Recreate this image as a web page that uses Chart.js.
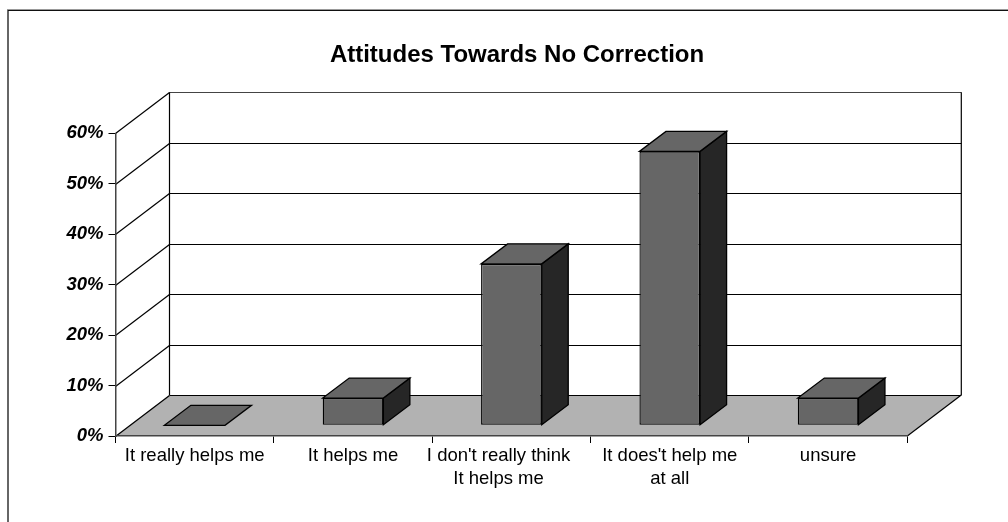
<!DOCTYPE html>
<html>
<head>
<meta charset="utf-8">
<script src="https://cdn.jsdelivr.net/npm/chart.js@4"></script>
<style>
  body { margin: 0; background: #fff; }
  canvas { display: block; }
</style>
</head>
<body>
<canvas id="attitudes" width="1008" height="522"></canvas>
<script>
const categories = [
  'It really helps me',
  'It helps me',
  ["I don't really think     ", 'It helps me     '],
  ["It does't help me", 'at all'],
  'unsure'
];
const percentages = [0, 5.4, 32, 54.3, 5.4];
const tickValues = [0, 10, 20, 30, 40, 50, 60];

const FONT = '"Liberation Sans", Arial, sans-serif';

// depth of the floor and side wall, and of each box
const wallDx = 54, wallDy = 41;
const barDx = 26.5, barDy = 20, barLift = 10.7;

function poly(ctx, pts, fill, stroke) {
  ctx.beginPath();
  pts.forEach(([x, y], i) => i ? ctx.lineTo(x, y) : ctx.moveTo(x, y));
  ctx.closePath();
  if (fill) { ctx.fillStyle = fill; ctx.fill(); }
  if (stroke) { ctx.strokeStyle = stroke; ctx.lineWidth = 1.3; ctx.stroke(); }
}

function line(ctx, x1, y1, x2, y2, color) {
  ctx.strokeStyle = color || '#000';
  ctx.lineWidth = 1.2;
  ctx.beginPath();
  ctx.moveTo(x1, y1);
  ctx.lineTo(x2, y2);
  ctx.stroke();
}

// outer frame, only the top and left edges show
const framePlugin = {
  id: 'frame',
  beforeDraw(chart) {
    const ctx = chart.ctx;
    ctx.save();
    ctx.fillStyle = '#fff';
    ctx.fillRect(0, 0, chart.width, chart.height);
    ctx.fillStyle = '#666';
    ctx.fillRect(7, 9, 2, chart.height - 9);
    ctx.fillStyle = '#999';
    ctx.fillRect(7, 9, chart.width - 7, 1);
    ctx.fillStyle = '#111';
    ctx.fillRect(8, 10, chart.width - 8, 1);
    ctx.restore();
  }
};

// keeps the title centred over the whole box, not over the plot
const titlePlugin = {
  id: 'titleCentre',
  afterLayout(chart) {
    chart.titleBlock.left = 26;
    chart.titleBlock.right = 1008;
  }
};

// back wall, side wall and floor
const wallsPlugin = {
  id: 'walls',
  beforeDatasetsDraw(chart) {
    const { ctx, chartArea: { left, right, bottom }, scales: { y } } = chart;
    ctx.save();
    poly(ctx, [
      [left, bottom], [right, bottom],
      [right + wallDx, bottom - wallDy], [left + wallDx, bottom - wallDy]
    ], '#b2b2b2');
    tickValues.forEach(v => {
      const py = Math.round(y.getPixelForValue(v)) + 0.5;
      line(ctx, left, py, left + wallDx, py - wallDy);
      line(ctx, left + wallDx, py - wallDy, right + wallDx, py - wallDy, v === 60 ? '#444' : '#000');
    });
    const top = y.getPixelForValue(60) - wallDy;
    line(ctx, left + wallDx, top, left + wallDx, bottom - wallDy);
    line(ctx, right + wallDx, top, right + wallDx, bottom - wallDy);
    line(ctx, right, bottom, right + wallDx, bottom - wallDy);
    ctx.restore();

    // boxes stand inside the floor, so shift them back from the front edge
    ctx.save();
    ctx.translate(0, -barLift);
  },
  afterDatasetsDraw(chart) {
    const ctx = chart.ctx;
    chart.getDatasetMeta(0).data.forEach(bar => {
      const x0 = bar.x - bar.width / 2, x1 = bar.x + bar.width / 2;
      const top = bar.y, base = bar.base;
      if (base - top > 0) {
        poly(ctx, [
          [x1, top], [x1 + barDx, top - barDy],
          [x1 + barDx, base - barDy], [x1, base]
        ], '#262626', '#000');
      }
      poly(ctx, [
        [x0, top], [x1, top],
        [x1 + barDx, top - barDy], [x0 + barDx, top - barDy]
      ], '#666', '#000');
    });
    ctx.restore();
  }
};

new Chart(document.getElementById('attitudes'), {
  type: 'bar',
  data: {
    labels: categories,
    datasets: [{
      data: percentages,
      backgroundColor: '#666',
      borderColor: '#000',
      borderWidth: 1.3,
      borderSkipped: false,
      categoryPercentage: 1,
      barPercentage: 0.383,
      clip: false
    }]
  },
  plugins: [framePlugin, titlePlugin, wallsPlugin],
  options: {
    responsive: false,
    animation: false,
    layout: { padding: { left: 0, right: 100.7, top: 0, bottom: 0 } },
    plugins: {
      legend: { display: false },
      tooltip: { enabled: false },
      title: {
        display: true,
        text: 'Attitudes Towards No Correction',
        color: '#000',
        font: { family: FONT, size: 24, weight: 'bold', lineHeight: 1.2 },
        padding: { top: 40.5, bottom: 64 }
      }
    },
    scales: {
      x: {
        grid: { drawOnChartArea: false, color: '#000', tickLength: 7 },
        border: { color: '#444', width: 1.5, z: 1 },
        ticks: {
          color: '#000',
          autoSkip: false,
          maxRotation: 0,
          padding: 1,
          font: { family: FONT, size: 18.5, lineHeight: 1.26 }
        },
        afterFit(scale) { scale.height = 86; }
      },
      y: {
        min: 0,
        max: 60,
        afterBuildTicks(scale) { scale.ticks = tickValues.map(value => ({ value })); },
        grid: { drawOnChartArea: false, color: '#000', tickLength: 7 },
        border: { color: '#444', width: 1.5, z: 1 },
        ticks: {
          color: '#000',
          padding: 5,
          callback: v => v + '%',
          font: { family: FONT, size: 18.5, style: 'italic', weight: 'bold' }
        },
        afterFit(scale) { scale.width = 115.5; }
      }
    }
  }
});
</script>
</body>
</html>
